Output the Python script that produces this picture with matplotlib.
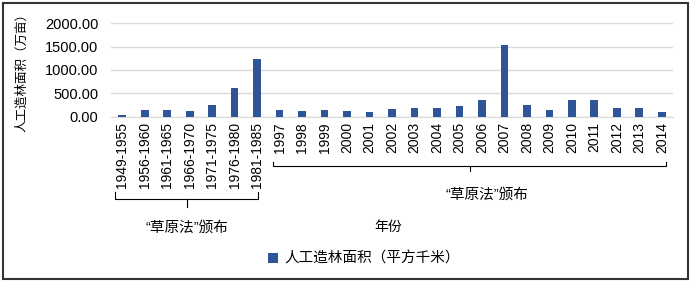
import matplotlib
matplotlib.use("Agg")
import matplotlib.pyplot as plt
from matplotlib.patches import Rectangle
from matplotlib.transforms import blended_transform_factory

plt.rcParams['font.family'] = ['Liberation Sans', 'Noto Sans CJK SC', 'DejaVu Sans']

# données
periodes = ["1949-1955", "1956-1960", "1961-1965", "1966-1970", "1971-1975", "1976-1980", "1981-1985",
            "1997", "1998", "1999", "2000", "2001", "2002", "2003", "2004", "2005", "2006", "2007",
            "2008", "2009", "2010", "2011", "2012", "2013", "2014"]
surface = [38, 140, 140, 115, 243, 621, 1235,
           136, 115, 136, 115, 107, 164, 193, 193, 221, 357, 1528,
           243, 136, 357, 357, 193, 193, 86]
yticks = [0, 500, 1000, 1500, 2000]

W, H = 694, 283
fig = plt.figure(figsize=(W / 100, H / 100), dpi=100)

def fx(px):
    return px / W

def fy(py):
    return 1 - py / H

ax = fig.add_axes([fx(111), fy(116.5), fx(673) - fx(111), fy(23.3) - fy(116.5)])
x = list(range(len(periodes)))
ax.bar(x, surface, width=0.34, color="#2F5597", zorder=3, label="人工造林面积（平方千米）")
ax.set_xlim(-0.5, len(periodes) - 0.5)
ax.set_ylim(0, 2000)
ax.set_yticks(yticks)
ax.set_yticklabels(["%.2f" % v for v in yticks], fontsize=10.5)
ax.set_xticks(x)
ax.set_xticklabels(periodes, rotation=90, fontsize=10)
ax.grid(axis="y", color="#D9D9D9", linewidth=1, zorder=0)
for s in ["top", "right", "left"]:
    ax.spines[s].set_visible(False)
ax.spines["bottom"].set_color("#D9D9D9")
ax.tick_params(axis="y", length=0, pad=9)
ax.tick_params(axis="x", length=0, pad=4)

# titre de l'axe y
fig.text(fx(22), fy(70), "人工造林面积（万亩）", rotation=90, ha="center", va="center",
         fontsize=9, family="Noto Sans CJK SC")

# accolades sous les étiquettes
tr = blended_transform_factory(ax.transData, fig.transFigure)
def accolade(x0, x1, ytop, ybar, ytick):
    kw = dict(transform=tr, color="black", lw=0.8, clip_on=False)
    ax.plot([x0, x0, x1, x1], [fy(ytop), fy(ybar), fy(ybar), fy(ytop)], **kw)
    xm = (x0 + x1) / 2
    ax.plot([xm, xm], [fy(ybar), fy(ytick)], **kw)

accolade(-0.3, 6.05, 192, 199, 207)
accolade(6.7, 24.2, 162, 166, 171)

fig.text(fx(187), fy(228), "“草原法”颁布", ha="center", va="center", fontsize=10.5)
fig.text(fx(487), fy(195), "“草原法”颁布", ha="center", va="center", fontsize=10.5)
fig.text(fx(388), fy(227), "年份", ha="center", va="center", fontsize=10)

ax.legend(loc="center", bbox_to_anchor=(fx(364), fy(259)), bbox_transform=fig.transFigure,
          frameon=False, fontsize=10.5, handlelength=0.7, handleheight=0.7, handletextpad=0.4)

fig.patches.append(Rectangle((fx(3), fy(279)), fx(688) - fx(3), fy(3) - fy(279),
                             transform=fig.transFigure, fill=False, edgecolor="#333333", lw=1.5))

fig.savefig("out.png", dpi=100)
